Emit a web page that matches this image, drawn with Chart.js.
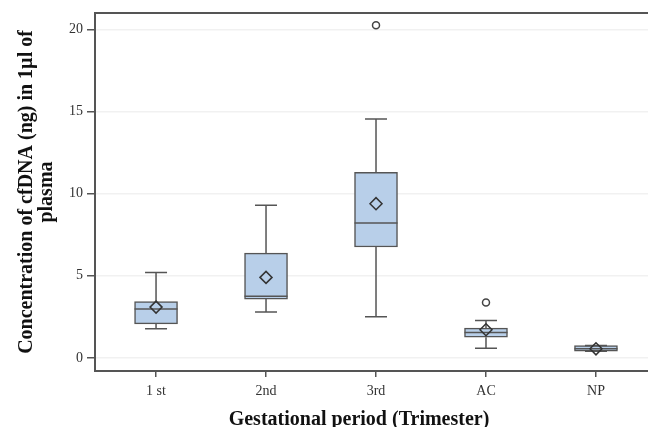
<!DOCTYPE html>
<html>
<head>
<meta charset="utf-8">
<script src="https://cdn.jsdelivr.net/npm/chart.js@4"></script>
<style>
  body { margin: 0; background: #fff; }
  #wrap { width: 648px; height: 427px; }
</style>
</head>
<body>
<div id="wrap"><canvas id="boxChart" width="648" height="427"></canvas></div>
<script>
// categories and box statistics
const categories = ['1 st', '2nd', '3rd', 'AC', 'NP'];
const whiskerLow = [1.77, 2.79, 2.5, 0.59, 0.41];
const q1 = [2.07, 3.58, 6.75, 1.26, 0.41];
const medians = [2.97, 3.75, 8.21, 1.55, 0.55];
const q3 = [3.43, 6.38, 11.3, 1.81, 0.75];
const whiskerHigh = [5.2, 9.29, 14.55, 2.27, 0.75];
const means = [3.09, 4.9, 9.39, 1.71, 0.55];
const outlierCats = ['3rd', 'AC'];
const outlierValues = [20.26, 3.37];
const yTicks = [0, 5, 10, 15, 20];

const lineColor = '#555';
const serif = "'Liberation Serif', 'Times New Roman', serif";

// median lines, whiskers and caps, drawn with the chart's scales
const boxParts = {
    id: 'boxParts',
    afterLayout(chart) {
        // the frame runs off the right edge of the picture, so stretch the plot area to the canvas edge
        const area = chart.chartArea, x = chart.scales.x;
        area.right = chart.width;
        area.width = area.right - area.left;
        x.right = chart.width;
        x.width = x.right - x.left;
        x.configure();
    },
    afterDatasetDraw(chart, args) {
        if (args.meta.type !== 'bar') return;
        const ctx = chart.ctx;
        const x = chart.scales.x, y = chart.scales.y;
        const half = 21.5, cap = 11;
        ctx.save();
        ctx.strokeStyle = lineColor;
        ctx.lineWidth = 1.5;
        categories.forEach((c, i) => {
            const px = x.getPixelForValue(i + 1);
            ctx.beginPath();
            // whiskers
            ctx.moveTo(px, y.getPixelForValue(q3[i]));
            ctx.lineTo(px, y.getPixelForValue(whiskerHigh[i]));
            ctx.moveTo(px, y.getPixelForValue(q1[i]));
            ctx.lineTo(px, y.getPixelForValue(whiskerLow[i]));
            // caps
            ctx.moveTo(px - cap, y.getPixelForValue(whiskerHigh[i]));
            ctx.lineTo(px + cap, y.getPixelForValue(whiskerHigh[i]));
            ctx.moveTo(px - cap, y.getPixelForValue(whiskerLow[i]));
            ctx.lineTo(px + cap, y.getPixelForValue(whiskerLow[i]));
            // median
            ctx.moveTo(px - half, y.getPixelForValue(medians[i]));
            ctx.lineTo(px + half, y.getPixelForValue(medians[i]));
            ctx.stroke();
        });
        ctx.restore();
    },
    afterDraw(chart) {
        const ctx = chart.ctx, area = chart.chartArea;
        ctx.save();
        // top frame line
        ctx.strokeStyle = lineColor;
        ctx.lineWidth = 2;
        ctx.beginPath();
        ctx.moveTo(area.left, area.top);
        ctx.lineTo(chart.width, area.top);
        ctx.stroke();
        // x axis title
        ctx.fillStyle = '#111';
        ctx.font = "bold 20px " + serif;
        ctx.textAlign = 'center';
        ctx.textBaseline = 'alphabetic';
        ctx.fillText('Gestational period (Trimester)', area.left + 264, chart.height - 2);
        ctx.restore();
    }
};

new Chart(document.getElementById('boxChart'), {
    type: 'bar',
    data: {
        datasets: [
            {
                type: 'scatter',
                label: 'Mean',
                data: means.map((m, i) => ({ x: i + 1, y: m })),
                pointStyle: 'rectRot',
                pointRadius: 6,
                borderColor: '#333',
                borderWidth: 1.5,
                backgroundColor: 'rgba(0,0,0,0)',
                order: 1
            },
            {
                type: 'scatter',
                label: 'Outliers',
                data: outlierCats.map((c, i) => ({ x: categories.indexOf(c) + 1, y: outlierValues[i] })),
                pointStyle: 'circle',
                pointRadius: 3.5,
                borderColor: '#444',
                borderWidth: 1.5,
                backgroundColor: '#fff',
                order: 2
            },
            {
                label: 'IQR',
                data: q1.map((v, i) => ({ x: i + 1, y: [v, q3[i]] })),
                backgroundColor: '#b8cfe9',
                borderColor: lineColor,
                borderWidth: 1.5,
                borderSkipped: false,
                barThickness: 43,
                order: 3
            }
        ]
    },
    options: {
        responsive: false,
        animation: false,
        layout: { padding: { top: 13, right: 0, left: 0, bottom: 0 } },
        plugins: {
            legend: { display: false },
            tooltip: { enabled: false }
        },
        scales: {
            x: {
                type: 'linear',
                min: 0.445,
                max: 5.473,
                offset: false,
                afterBuildTicks: (scale) => { scale.ticks = categories.map((c, i) => ({ value: i + 1 })); },
                afterFit: (scale) => { scale.height = 56; scale.paddingRight = 0; },
                ticks: {
                    callback: (v) => categories[Math.round(v) - 1],
                    font: { family: serif, size: 14 },
                    color: '#333',
                    padding: 6,
                    maxRotation: 0
                },
                grid: { drawOnChartArea: false, offset: false, color: lineColor, tickLength: 6, lineWidth: 1.5 },
                border: { display: true, color: lineColor, width: 2 }
            },
            y: {
                min: -0.8,
                max: 21.0,
                afterBuildTicks: (scale) => { scale.ticks = yTicks.map(v => ({ value: v })); },
                afterFit: (scale) => { scale.width = 95; },
                ticks: {
                    font: { family: serif, size: 14 },
                    color: '#333',
                    padding: 4
                },
                grid: { color: '#f1f1f1', tickColor: lineColor, tickLength: 8, lineWidth: 1.5 },
                border: { display: true, color: lineColor, width: 2 },
                title: {
                    display: true,
                    text: ['Concentration of cfDNA (ng) in 1µl of', 'plasma'],
                    font: { family: serif, size: 20, weight: 'bold', lineHeight: 1.0 },
                    color: '#111',
                    padding: { top: 17, bottom: 0 }
                }
            }
        }
    },
    plugins: [boxParts]
});
</script>
</body>
</html>
